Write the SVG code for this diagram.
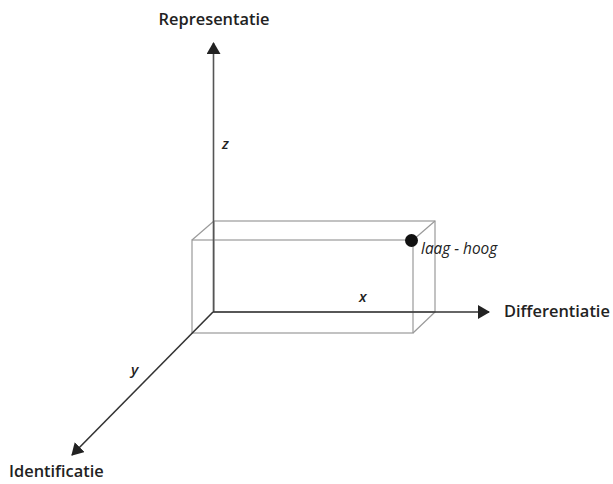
<svg xmlns="http://www.w3.org/2000/svg" width="613" height="484" viewBox="0 0 613 484">
<style>
.ax{stroke:#333;stroke-width:1.6;fill:none}
.box{stroke:#9a9a9a;stroke-width:1.2;fill:none}
.lbl{font-family:"Open Sans","Noto Sans",sans-serif;font-weight:600;font-size:16.4px;fill:#222}
.var{font-family:"Open Sans","Noto Sans",sans-serif;font-style:italic;font-weight:600;font-size:15px;fill:#222}
.it{font-family:"Open Sans","Noto Sans",sans-serif;font-style:italic;font-size:15.4px;fill:#222}
</style>
<defs>
<marker id="ah" viewBox="0 0 12 14" refX="11" refY="7" markerWidth="12" markerHeight="14" markerUnits="userSpaceOnUse" orient="auto">
<path d="M0,0 L12,7 L0,14 Z" fill="#222"/>
</marker>
</defs>
<g id="box">
<rect class="box" x="214" y="221" width="221" height="91"/>
<rect class="box" x="192" y="240" width="221" height="93"/>
<line class="box" x1="192" y1="240" x2="214" y2="221"/>
<line class="box" x1="413" y1="240" x2="435" y2="221"/>
<line class="box" x1="413" y1="333" x2="435" y2="312"/>
</g>
<g id="connectors">
<line class="ax" x1="213.5" y1="312" x2="213.5" y2="43" marker-end="url(#ah)" style="stroke:#555"/>
<line class="ax" x1="213" y1="312" x2="489" y2="312" marker-end="url(#ah)"/>
<line class="ax" x1="213" y1="312" x2="72" y2="455" marker-end="url(#ah)"/>
</g>
<g id="point">
<circle cx="411.5" cy="240.5" r="6.5" fill="#111"/>
<text class="it" x="421" y="254">laag - hoog</text>
</g>
<g id="labels">
<text class="lbl" x="214" y="25" text-anchor="middle">Representatie</text>
<text class="lbl" x="504" y="317">Differentiatie</text>
<text class="lbl" x="9" y="477">Identificatie</text>
<text class="var" x="222" y="149">z</text>
<text class="var" x="359" y="302">x</text>
<text class="var" x="131" y="375">y</text>
</g>
</svg>
